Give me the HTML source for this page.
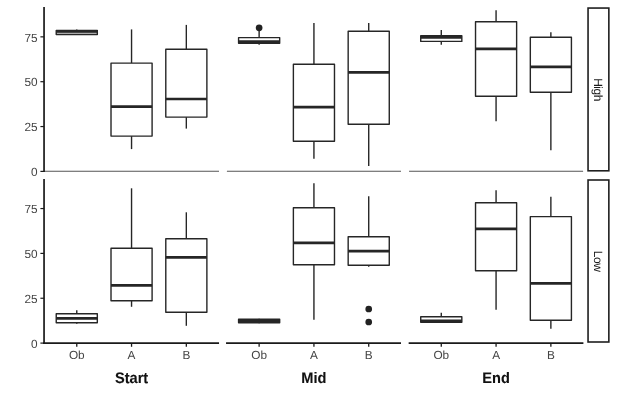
<!DOCTYPE html>
<html><head><meta charset="utf-8"><title>Boxplot</title>
<style>
html,body{margin:0;padding:0;background:#fff;}
body{width:617px;height:414px;overflow:hidden;}
svg{display:block;}
text{font-family:"Liberation Sans",Arial,Helvetica,sans-serif;text-rendering:geometricPrecision;}
.t{font-size:11.8px;fill:#444;}
.s{font-size:14.6px;font-weight:bold;fill:#111;stroke:#111;stroke-width:0.1px;}
.r{font-size:12px;fill:#1a1a1a;letter-spacing:-0.5px;}
</style></head><body>
<svg width="617" height="414" viewBox="0 0 617 414">
<rect width="617" height="414" fill="#fff"/>
<g stroke="#262626" stroke-width="1.4" fill="none" stroke-linejoin="round">
<line x1="76.77" y1="29.60" x2="76.77" y2="30.50"/>
<line x1="76.77" y1="34.60" x2="76.77" y2="34.60"/>
<rect x="56.23" y="30.50" width="41.09" height="4.10" fill="#aaa"/>
<line x1="56.23" y1="31.50" x2="97.31" y2="31.50" stroke-width="2.7" stroke-linecap="butt"/>
</g>
<g stroke="#262626" stroke-width="1.4" fill="none" stroke-linejoin="round">
<line x1="131.55" y1="29.40" x2="131.55" y2="63.10"/>
<line x1="131.55" y1="136.10" x2="131.55" y2="149.10"/>
<rect x="111.01" y="63.10" width="41.09" height="73.00" fill="#fff"/>
<line x1="111.01" y1="106.60" x2="152.09" y2="106.60" stroke-width="2.7" stroke-linecap="butt"/>
</g>
<g stroke="#262626" stroke-width="1.4" fill="none" stroke-linejoin="round">
<line x1="186.33" y1="24.90" x2="186.33" y2="49.20"/>
<line x1="186.33" y1="117.10" x2="186.33" y2="128.60"/>
<rect x="165.79" y="49.20" width="41.09" height="67.90" fill="#fff"/>
<line x1="165.79" y1="99.00" x2="206.87" y2="99.00" stroke-width="2.7" stroke-linecap="butt"/>
</g>
<g stroke="#262626" stroke-width="1.4" fill="none" stroke-linejoin="round">
<line x1="259.13" y1="29.30" x2="259.13" y2="37.60"/>
<line x1="259.13" y1="43.30" x2="259.13" y2="44.80"/>
<rect x="238.58" y="37.60" width="41.10" height="5.70" fill="#fff"/>
<line x1="238.58" y1="41.60" x2="279.68" y2="41.60" stroke-width="2.7" stroke-linecap="butt"/>
</g>
<g stroke="#262626" stroke-width="1.4" fill="none" stroke-linejoin="round">
<line x1="313.93" y1="23.10" x2="313.93" y2="64.30"/>
<line x1="313.93" y1="141.30" x2="313.93" y2="158.80"/>
<rect x="293.38" y="64.30" width="41.10" height="77.00" fill="#fff"/>
<line x1="293.38" y1="107.10" x2="334.47" y2="107.10" stroke-width="2.7" stroke-linecap="butt"/>
</g>
<g stroke="#262626" stroke-width="1.4" fill="none" stroke-linejoin="round">
<line x1="368.72" y1="22.90" x2="368.72" y2="31.30"/>
<line x1="368.72" y1="124.30" x2="368.72" y2="166.00"/>
<rect x="348.17" y="31.30" width="41.10" height="93.00" fill="#fff"/>
<line x1="348.17" y1="72.30" x2="389.27" y2="72.30" stroke-width="2.7" stroke-linecap="butt"/>
</g>
<g stroke="#262626" stroke-width="1.4" fill="none" stroke-linejoin="round">
<line x1="441.28" y1="30.00" x2="441.28" y2="35.80"/>
<line x1="441.28" y1="41.40" x2="441.28" y2="44.80"/>
<rect x="420.73" y="35.80" width="41.10" height="5.60" fill="#fff"/>
<line x1="420.73" y1="37.30" x2="461.83" y2="37.30" stroke-width="2.7" stroke-linecap="butt"/>
</g>
<g stroke="#262626" stroke-width="1.4" fill="none" stroke-linejoin="round">
<line x1="496.07" y1="10.30" x2="496.07" y2="21.80"/>
<line x1="496.07" y1="96.30" x2="496.07" y2="121.30"/>
<rect x="475.53" y="21.80" width="41.10" height="74.50" fill="#fff"/>
<line x1="475.53" y1="48.80" x2="516.62" y2="48.80" stroke-width="2.7" stroke-linecap="butt"/>
</g>
<g stroke="#262626" stroke-width="1.4" fill="none" stroke-linejoin="round">
<line x1="550.87" y1="32.30" x2="550.87" y2="37.30"/>
<line x1="550.87" y1="92.30" x2="550.87" y2="150.30"/>
<rect x="530.32" y="37.30" width="41.10" height="55.00" fill="#fff"/>
<line x1="530.32" y1="66.80" x2="571.42" y2="66.80" stroke-width="2.7" stroke-linecap="butt"/>
</g>
<g stroke="#262626" stroke-width="1.4" fill="none" stroke-linejoin="round">
<line x1="76.77" y1="310.30" x2="76.77" y2="313.80"/>
<line x1="76.77" y1="322.80" x2="76.77" y2="323.80"/>
<rect x="56.23" y="313.80" width="41.09" height="9.00" fill="#fff"/>
<line x1="56.23" y1="318.30" x2="97.31" y2="318.30" stroke-width="2.7" stroke-linecap="butt"/>
</g>
<g stroke="#262626" stroke-width="1.4" fill="none" stroke-linejoin="round">
<line x1="131.55" y1="188.30" x2="131.55" y2="248.30"/>
<line x1="131.55" y1="300.80" x2="131.55" y2="306.80"/>
<rect x="111.01" y="248.30" width="41.09" height="52.50" fill="#fff"/>
<line x1="111.01" y1="285.30" x2="152.09" y2="285.30" stroke-width="2.7" stroke-linecap="butt"/>
</g>
<g stroke="#262626" stroke-width="1.4" fill="none" stroke-linejoin="round">
<line x1="186.33" y1="212.30" x2="186.33" y2="238.80"/>
<line x1="186.33" y1="312.30" x2="186.33" y2="325.80"/>
<rect x="165.79" y="238.80" width="41.09" height="73.50" fill="#fff"/>
<line x1="165.79" y1="257.30" x2="206.87" y2="257.30" stroke-width="2.7" stroke-linecap="butt"/>
</g>
<g stroke="#262626" stroke-width="1.4" fill="none" stroke-linejoin="round">
<line x1="259.13" y1="318.80" x2="259.13" y2="319.30"/>
<line x1="259.13" y1="322.80" x2="259.13" y2="323.30"/>
<rect x="238.58" y="319.30" width="41.10" height="3.50" fill="#999"/>
<line x1="238.58" y1="321.10" x2="279.68" y2="321.10" stroke-width="2.7" stroke-linecap="butt"/>
</g>
<g stroke="#262626" stroke-width="1.4" fill="none" stroke-linejoin="round">
<line x1="313.93" y1="183.30" x2="313.93" y2="207.80"/>
<line x1="313.93" y1="264.80" x2="313.93" y2="319.80"/>
<rect x="293.38" y="207.80" width="41.10" height="57.00" fill="#fff"/>
<line x1="293.38" y1="242.80" x2="334.47" y2="242.80" stroke-width="2.7" stroke-linecap="butt"/>
</g>
<g stroke="#262626" stroke-width="1.4" fill="none" stroke-linejoin="round">
<line x1="368.72" y1="196.30" x2="368.72" y2="236.80"/>
<line x1="368.72" y1="265.30" x2="368.72" y2="266.80"/>
<rect x="348.17" y="236.80" width="41.10" height="28.50" fill="#fff"/>
<line x1="348.17" y1="251.10" x2="389.27" y2="251.10" stroke-width="2.7" stroke-linecap="butt"/>
</g>
<g stroke="#262626" stroke-width="1.4" fill="none" stroke-linejoin="round">
<line x1="441.28" y1="312.80" x2="441.28" y2="316.80"/>
<line x1="441.28" y1="322.30" x2="441.28" y2="322.80"/>
<rect x="420.73" y="316.80" width="41.10" height="5.50" fill="#fff"/>
<line x1="420.73" y1="320.80" x2="461.83" y2="320.80" stroke-width="2.7" stroke-linecap="butt"/>
</g>
<g stroke="#262626" stroke-width="1.4" fill="none" stroke-linejoin="round">
<line x1="496.07" y1="190.30" x2="496.07" y2="202.80"/>
<line x1="496.07" y1="270.80" x2="496.07" y2="309.80"/>
<rect x="475.53" y="202.80" width="41.10" height="68.00" fill="#fff"/>
<line x1="475.53" y1="228.80" x2="516.62" y2="228.80" stroke-width="2.7" stroke-linecap="butt"/>
</g>
<g stroke="#262626" stroke-width="1.4" fill="none" stroke-linejoin="round">
<line x1="550.87" y1="196.70" x2="550.87" y2="216.60"/>
<line x1="550.87" y1="320.30" x2="550.87" y2="328.80"/>
<rect x="530.32" y="216.60" width="41.10" height="103.70" fill="#fff"/>
<line x1="530.32" y1="283.30" x2="571.42" y2="283.30" stroke-width="2.7" stroke-linecap="butt"/>
</g>
<circle cx="259.13" cy="27.8" r="3.35" fill="#222"/>
<circle cx="368.72" cy="309.0" r="3.35" fill="#222"/>
<circle cx="368.72" cy="322.0" r="3.35" fill="#222"/>
<line x1="44.0" y1="171.25" x2="219.0" y2="171.25" stroke="#555" stroke-width="1.1"/>
<line x1="43.0" y1="343.1" x2="219.05" y2="343.1" stroke="#1a1a1a" stroke-width="1.7"/>
<line x1="76.77" y1="343.1" x2="76.77" y2="346.8" stroke="#1a1a1a" stroke-width="1.3"/>
<text x="76.77" y="358.6" text-anchor="middle" class="t">Ob</text>
<line x1="131.55" y1="343.1" x2="131.55" y2="346.8" stroke="#1a1a1a" stroke-width="1.3"/>
<text x="131.55" y="358.6" text-anchor="middle" class="t">A</text>
<line x1="186.33" y1="343.1" x2="186.33" y2="346.8" stroke="#1a1a1a" stroke-width="1.3"/>
<text x="186.33" y="358.6" text-anchor="middle" class="t">B</text>
<text transform="translate(131.55,383.05) scale(1,1.04)" text-anchor="middle" class="s">Start</text>
<line x1="226.9" y1="171.25" x2="401.0" y2="171.25" stroke="#555" stroke-width="1.1"/>
<line x1="226.05" y1="343.1" x2="401.0" y2="343.1" stroke="#1a1a1a" stroke-width="1.7"/>
<line x1="259.13" y1="343.1" x2="259.13" y2="346.8" stroke="#1a1a1a" stroke-width="1.3"/>
<text x="259.13" y="358.6" text-anchor="middle" class="t">Ob</text>
<line x1="313.93" y1="343.1" x2="313.93" y2="346.8" stroke="#1a1a1a" stroke-width="1.3"/>
<text x="313.93" y="358.6" text-anchor="middle" class="t">A</text>
<line x1="368.72" y1="343.1" x2="368.72" y2="346.8" stroke="#1a1a1a" stroke-width="1.3"/>
<text x="368.72" y="358.6" text-anchor="middle" class="t">B</text>
<text transform="translate(313.93,383.05) scale(1,1.04)" text-anchor="middle" class="s">Mid</text>
<line x1="409.05" y1="171.25" x2="583.1" y2="171.25" stroke="#555" stroke-width="1.1"/>
<line x1="408.65" y1="343.1" x2="583.4" y2="343.1" stroke="#1a1a1a" stroke-width="1.7"/>
<line x1="441.28" y1="343.1" x2="441.28" y2="346.8" stroke="#1a1a1a" stroke-width="1.3"/>
<text x="441.28" y="358.6" text-anchor="middle" class="t">Ob</text>
<line x1="496.07" y1="343.1" x2="496.07" y2="346.8" stroke="#1a1a1a" stroke-width="1.3"/>
<text x="496.07" y="358.6" text-anchor="middle" class="t">A</text>
<line x1="550.87" y1="343.1" x2="550.87" y2="346.8" stroke="#1a1a1a" stroke-width="1.3"/>
<text x="550.87" y="358.6" text-anchor="middle" class="t">B</text>
<text transform="translate(496.07,383.05) scale(1,1.04)" text-anchor="middle" class="s">End</text>
<line x1="44.05" y1="7.05" x2="44.05" y2="172.0" stroke="#1a1a1a" stroke-width="1.7"/>
<line x1="44.05" y1="179.0" x2="44.05" y2="343.9" stroke="#1a1a1a" stroke-width="1.7"/>
<line x1="40.4" y1="171.40" x2="44.05" y2="171.40" stroke="#1a1a1a" stroke-width="1.2"/>
<text x="37.5" y="176.10" text-anchor="end" class="t">0</text>
<line x1="40.4" y1="126.55" x2="44.05" y2="126.55" stroke="#1a1a1a" stroke-width="1.2"/>
<text x="37.5" y="131.25" text-anchor="end" class="t">25</text>
<line x1="40.4" y1="81.70" x2="44.05" y2="81.70" stroke="#1a1a1a" stroke-width="1.2"/>
<text x="37.5" y="86.40" text-anchor="end" class="t">50</text>
<line x1="40.4" y1="36.85" x2="44.05" y2="36.85" stroke="#1a1a1a" stroke-width="1.2"/>
<text x="37.5" y="41.55" text-anchor="end" class="t">75</text>
<line x1="40.4" y1="343.10" x2="44.05" y2="343.10" stroke="#1a1a1a" stroke-width="1.2"/>
<text x="37.5" y="347.80" text-anchor="end" class="t">0</text>
<line x1="40.4" y1="298.25" x2="44.05" y2="298.25" stroke="#1a1a1a" stroke-width="1.2"/>
<text x="37.5" y="302.95" text-anchor="end" class="t">25</text>
<line x1="40.4" y1="253.40" x2="44.05" y2="253.40" stroke="#1a1a1a" stroke-width="1.2"/>
<text x="37.5" y="258.10" text-anchor="end" class="t">50</text>
<line x1="40.4" y1="208.55" x2="44.05" y2="208.55" stroke="#1a1a1a" stroke-width="1.2"/>
<text x="37.5" y="213.25" text-anchor="end" class="t">75</text>
<rect x="588.05" y="8.05" width="20.8" height="162.75" fill="#fff" stroke="#1f1f1f" stroke-width="1.6"/>
<text transform="translate(594.45,89.525) rotate(90)" text-anchor="middle" class="r">High</text>
<rect x="588.05" y="180.0" width="20.8" height="162.00" fill="#fff" stroke="#1f1f1f" stroke-width="1.6"/>
<text transform="translate(594.45,261.1) rotate(90)" text-anchor="middle" class="r">Low</text>
</svg>
</body></html>
